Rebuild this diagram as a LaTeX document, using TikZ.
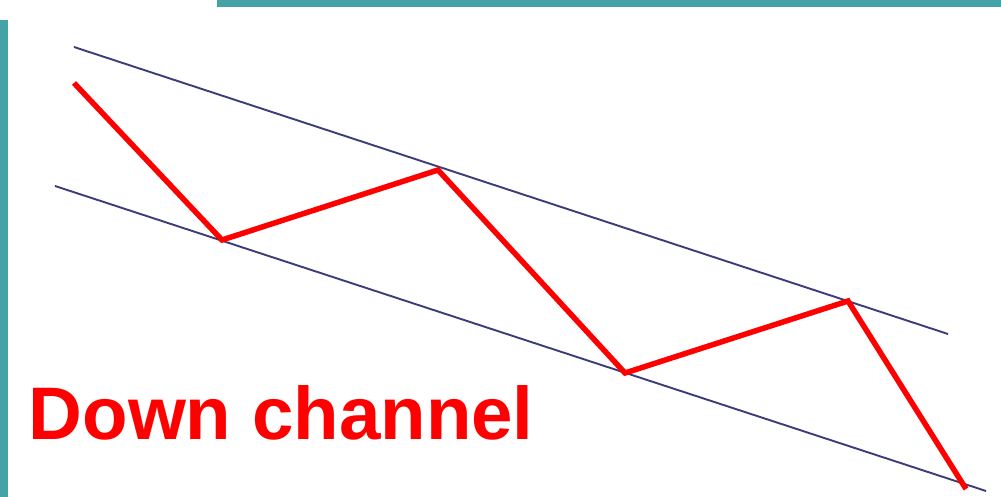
\documentclass[tikz,border=0pt]{standalone}
\usepackage{fontspec}
\setmainfont{Liberation Sans}
\definecolor{teal1}{HTML}{45A3A8}
\definecolor{chan}{HTML}{3C3C7A}
\definecolor{pr}{HTML}{FF0000}
\begin{document}
\begin{tikzpicture}[x=1pt,y=-1pt,
  chanline/.style={draw=chan,line width=1.9pt},
  price/.style={draw=pr,line width=5.5pt,line join=miter},
  bar/.style={fill=teal1,draw=none}]
\useasboundingbox (0,0) rectangle (1001,497);
\fill[white] (0,0) rectangle (1001,497);
\path[bar] (217,0) rectangle (1001,7);
\path[bar] (0,20) rectangle (8,497);
% channel lines
\coordinate (u1) at (74,47);
\coordinate (u2) at (948,334);
\coordinate (l1) at (55,186);
\coordinate (l2) at (986,491);
\draw[chanline] (u1) -- (u2);
\draw[chanline] (l1) -- (l2);
% price path
\coordinate (p0) at (74,83);
\coordinate (p1) at (222,240);
\coordinate (p2) at (438,170);
\coordinate (p3) at (625,373);
\coordinate (p4) at (848,301);
\coordinate (p5) at (966,489);
\draw[price] (p0) -- (p1) -- (p2) -- (p3) -- (p4) -- (p5);
\node[anchor=base west,inner sep=0pt,text=pr,font=\fontsize{74.5}{80}\selectfont\bfseries] (t) at (28.5,439.5) {Down channel};
\end{tikzpicture}
\end{document}
